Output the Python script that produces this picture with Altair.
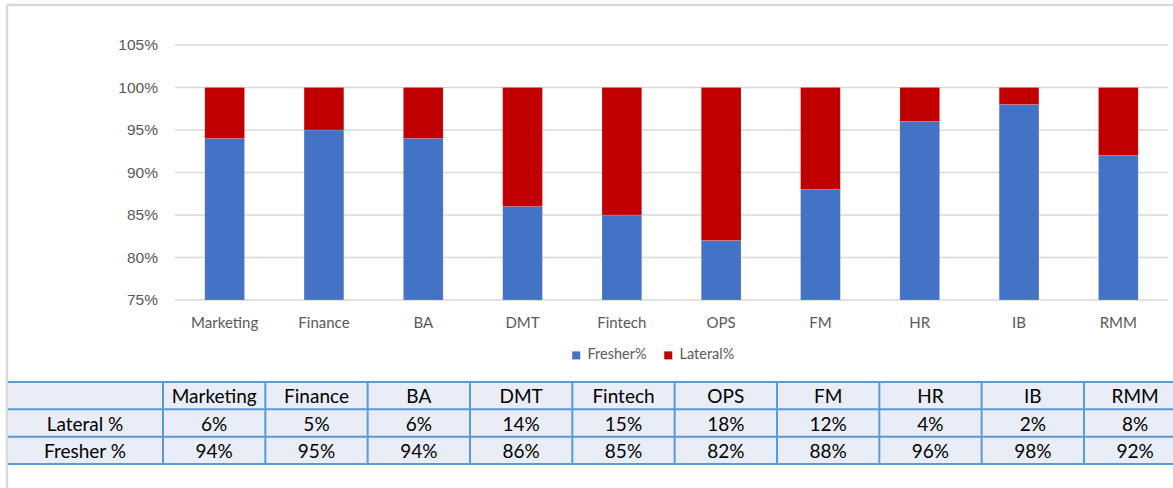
import altair as alt
import pandas as pd

cats = ["Marketing", "Finance", "BA", "DMT", "Fintech", "OPS", "FM", "HR", "IB", "RMM"]
lateral = [6, 5, 6, 14, 15, 18, 12, 4, 2, 8]
fresher = [94, 95, 94, 86, 85, 82, 88, 96, 98, 92]
y_ticks = [0.75, 0.80, 0.85, 0.90, 0.95, 1.00, 1.05]
series = ["Fresher%", "Lateral%"]
series_colors = ["#4472C4", "#C00000"]
row_labels = ["Lateral %", "Fresher %"]

W, H = 1173, 488
Y_MIN, Y_MAX = 0.75, 1.05

# ---- data tables built from the arrays ----
bar_rows = []
for c, f, l in zip(cats, fresher, lateral):
    bar_rows.append({"dept": c, "series": "Fresher%", "lo": Y_MIN, "hi": f / 100})
    bar_rows.append({"dept": c, "series": "Lateral%", "lo": f / 100, "hi": (f + l) / 100})
bars_df = pd.DataFrame(bar_rows)
ticks_df = pd.DataFrame({"t": y_ticks})
cats_df = pd.DataFrame({"dept": cats})

cell_rows = []
for c, f, l in zip(cats, fresher, lateral):
    cell_rows.append({"dept": c, "row": 0.5, "txt": c})
    cell_rows.append({"dept": c, "row": 1.5, "txt": f"{l}%"})
    cell_rows.append({"dept": c, "row": 2.5, "txt": f"{f}%"})
cells_df = pd.DataFrame(cell_rows)
rowlab_df = pd.DataFrame({"row": [1.5, 2.5], "txt": row_labels})
hlines_df = pd.DataFrame({"row": [0, 1, 2, 3]})

# ---- scales ----
yscale = alt.Scale(domain=[Y_MIN, Y_MAX], range=[300, 45], zero=False, nice=False)
xscale = alt.Scale(domain=cats, range=[175, 1168], paddingInner=0.6, paddingOuter=0.3)
tx = alt.Scale(domain=cats, range=[163, 1186.3], paddingInner=0, paddingOuter=0)
ty = alt.Scale(domain=[0, 3], range=[382, 464], zero=False, nice=False)

AXIS_GRAY = "#595959"
GRID = "#D9D9D9"
TBL_LINE = "#5B9BD5"

# outer border
border_top = alt.Chart(cats_df.head(1)).mark_rule(color=GRID, strokeWidth=2.5).encode(
    x=alt.value(7), x2=alt.value(W), y=alt.value(5))
border_left = alt.Chart(cats_df.head(1)).mark_rule(color=GRID, strokeWidth=2.5).encode(
    x=alt.value(7), y=alt.value(5), y2=alt.value(H))

grid = alt.Chart(ticks_df).mark_rule(color=GRID, strokeWidth=1.3).encode(
    y=alt.Y("t:Q", scale=yscale, axis=None), x=alt.value(175), x2=alt.value(1168))

ylabels = alt.Chart(ticks_df).mark_text(
    align="right", baseline="middle", font="Liberation Sans", fontSize=15.5, color=AXIS_GRAY
).encode(y=alt.Y("t:Q", scale=yscale, axis=None), x=alt.value(158),
         text=alt.Text("t:Q", format=".0%"))

bars = alt.Chart(bars_df).mark_bar(stroke="white", strokeOpacity=0.3, strokeWidth=0.5).encode(
    x=alt.X("dept:N", scale=xscale, axis=None, sort=cats),
    y=alt.Y("lo:Q", scale=yscale, axis=None),
    y2="hi:Q",
    color=alt.Color("series:N", scale=alt.Scale(domain=series, range=series_colors),
                    legend=alt.Legend(orient="none", legendX=569, legendY=348,
                                      direction="horizontal", title=None,
                                      symbolType="square", symbolSize=64,
                                      symbolStrokeWidth=0, labelFont="Lato",
                                      labelFontSize=14.5, labelColor=AXIS_GRAY,
                                      labelOffset=4, columnPadding=14, padding=0)),
    order=alt.Order("series:N"),
)

xlabels = alt.Chart(cats_df).mark_text(
    font="Lato", fontSize=15, color=AXIS_GRAY, baseline="middle", dy=1
).encode(x=alt.X("dept:N", scale=xscale, axis=None, sort=cats), y=alt.value(322),
         text="dept:N")

# ---- table ----
tbl_bg = alt.Chart(cats_df.head(1)).mark_rect(color="#E9EDF7").encode(
    x=alt.value(8), x2=alt.value(W), y=alt.value(382), y2=alt.value(464))

hlines = alt.Chart(hlines_df).mark_rule(color=TBL_LINE, strokeWidth=2).encode(
    y=alt.Y("row:Q", scale=ty, axis=None), x=alt.value(8), x2=alt.value(W))

vlines = alt.Chart(cats_df).mark_rule(color=TBL_LINE, strokeWidth=2).encode(
    x=alt.X("dept:N", scale=tx, axis=None, sort=cats, bandPosition=0),
    y=alt.value(382), y2=alt.value(464))

cells = alt.Chart(cells_df).mark_text(
    font="Lato", fontSize=19, color="#000000", baseline="middle", dy=1.5
).encode(x=alt.X("dept:N", scale=tx, axis=None, sort=cats),
         y=alt.Y("row:Q", scale=ty, axis=None), text="txt:N")

rowlabs = alt.Chart(rowlab_df).mark_text(
    font="Lato", fontSize=19, color="#000000", baseline="middle", dy=1.5
).encode(x=alt.value(85), y=alt.Y("row:Q", scale=ty, axis=None), text="txt:N")

chart = alt.layer(
    border_top, border_left, grid, ylabels, bars, xlabels,
    tbl_bg, hlines, vlines, cells, rowlabs
).resolve_scale(x="independent", y="independent").properties(
    width=W, height=H, autosize=alt.AutoSizeParams(type="none"), padding=0,
    background="white"
).configure_view(stroke=None)

chart.save("out.html", embed_options={"renderer": "svg", "actions": False})
